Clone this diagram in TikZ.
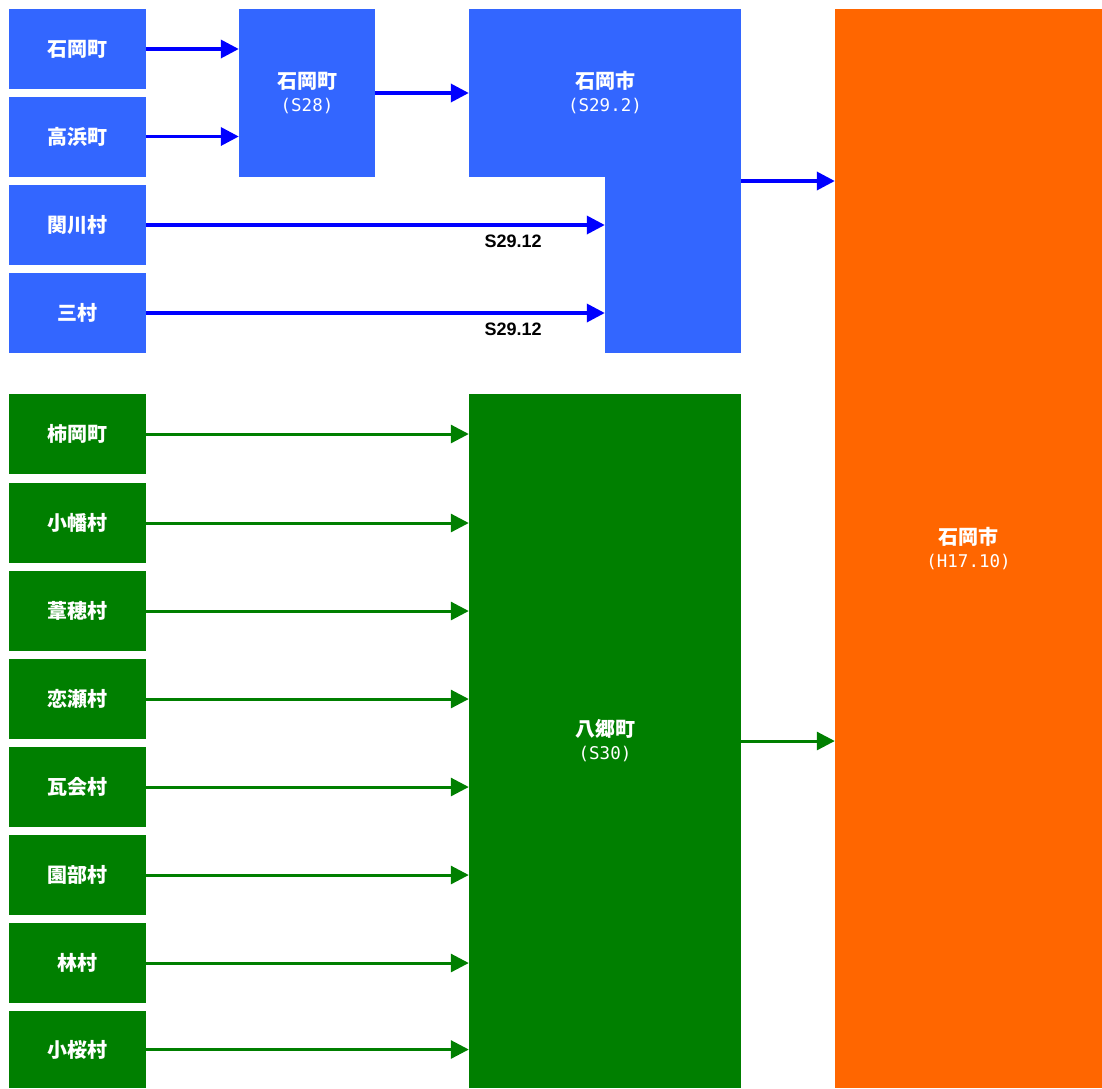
\documentclass[tikz,border=0pt]{standalone}
\usepackage{fontspec}
\setmainfont{Liberation Sans}
\newfontfamily\jpfont{Noto Sans CJK JP}
\newfontfamily\ascfont{DejaVu Sans Mono}
\usetikzlibrary{arrows.meta,calc}

\definecolor{mergeblue}{HTML}{3366FF}
\definecolor{lineblue}{HTML}{0000FF}
\definecolor{yagreen}{HTML}{007F00}
\definecolor{cityorange}{HTML}{FF6600}

\newcommand{\datelabel}[1]{{\ascfont\mdseries\fontsize{17.5}{23}\selectfont #1}}

\tikzset{
  townbox/.style={rectangle, inner sep=0pt, minimum width=137pt,
    minimum height=80pt, text=white, align=center,
    font=\jpfont\bfseries\fontsize{20}{23}\selectfont},
  bluebox/.style={townbox, fill=mergeblue},
  greenbox/.style={townbox, fill=yagreen},
  orangebox/.style={townbox, fill=cityorange},
  mergearrow/.style={line width=3.5pt, -{Triangle[length=18pt,width=18pt]}},
  bluearrow/.style={mergearrow, draw=lineblue},
  greenarrow/.style={mergearrow, draw=yagreen, line width=3pt},
  datetag/.style={below=6pt, inner sep=2pt, font=\bfseries\fontsize{18}{20}\selectfont}
}

\begin{document}
\begin{tikzpicture}[x=1pt,y=-1pt]
\useasboundingbox (0,0) rectangle (1102,1088);

% Ishioka side
\node[bluebox] (ishiokacho) at (77.5,49) {石岡町};
\node[bluebox] (takahama) at (77.5,136.5) {高浜町};
\node[bluebox] (sekikawa) at (77.5,225) {関川村};
\node[bluebox] (mimura) at (77.5,313) {三村};

\node[bluebox, minimum width=136pt, minimum height=168pt] (s28) at (307,93)
{石岡町\\\datelabel{(S28)}};

\node[bluebox, minimum width=136pt, minimum height=176pt] (s29low) at (673,265) {};
\node[bluebox, minimum width=272pt, minimum height=168pt] (s29) at (605,93)
{石岡市\\\datelabel{(S29.2)}};

% Yasato side
\foreach \n/\t/\y/\h in {
kakioka/柿岡町/434/80, obata/小幡村/523/80,
ashiho/葦穂村/611/80, koise/恋瀬村/699/80,
kawarago/瓦会村/787/80, sonobe/園部村/875/80,
hayashi/林村/963/80, kozakura/小桜村/1049.5/77
}
{
\node[greenbox, minimum height=\h pt] (\n) at (77.5,\y) {\t};
}

\node[greenbox, minimum width=272pt, minimum height=694pt] (yasato) at (605,741)
{八郷町\\\datelabel{(S30)}};

% New city
\node[orangebox, minimum width=267pt, minimum height=1079pt] (newcity) at (968.5,548.5)
{石岡市\\\datelabel{(H17.10)}};

% Arrows
\draw[bluearrow] (ishiokacho.east) -- (ishiokacho.east -| s28.west);
\draw[bluearrow] (takahama.east) -- (takahama.east -| s28.west);
\draw[bluearrow] (s28.east) -- (s28.east -| s29.west);
\draw[bluearrow] (sekikawa.east) -- (sekikawa.east -| s29low.west)
  node[datetag, pos=0.8] {S29.12};
\draw[bluearrow] (mimura.east) -- (mimura.east -| s29low.west)
  node[datetag, pos=0.8] {S29.12};

\coordinate (s29out) at ($(s29.north east)!0.5!(s29low.south east)$);
\draw[bluearrow] (s29out) -- (s29out -| newcity.west);

\foreach \n in {kakioka,obata,ashiho,koise,kawarago,sonobe,hayashi,kozakura}
{
\draw[greenarrow] (\n.east) -- (\n.east -| yasato.west);
}

\draw[greenarrow] (yasato.east) -- (yasato.east -| newcity.west);

\end{tikzpicture}
\end{document}
